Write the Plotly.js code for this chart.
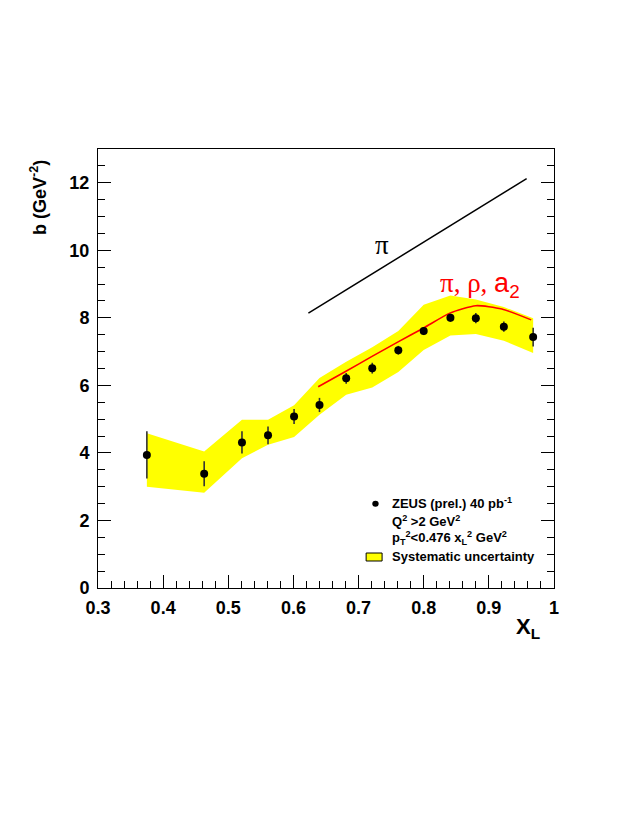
<!DOCTYPE html>
<html>
<head>
<meta charset="utf-8">
<script src="https://cdn.plot.ly/plotly-3.0.1.min.js"></script>
<style>html,body{margin:0;padding:0;background:#fff;}#plot{width:632px;height:817px;}</style>
</head>
<body>
<div id="plot"></div>
<script>
// ZEUS (prel.) slope b vs x_L
const xL = [0.375, 0.463, 0.521, 0.561, 0.601, 0.640, 0.681, 0.721, 0.761, 0.800, 0.841, 0.880, 0.923, 0.968];
const bVal = [3.94, 3.38, 4.31, 4.52, 5.08, 5.42, 6.21, 6.51, 7.04, 7.61, 8.00, 7.99, 7.74, 7.43];
const bErr = [0.70, 0.37, 0.33, 0.26, 0.22, 0.21, 0.16, 0.16, 0.13, 0.12, 0.12, 0.15, 0.15, 0.28];
const sysUpper = [4.58, 4.04, 4.98, 4.98, 5.41, 6.22, 6.70, 7.13, 7.61, 8.39, 8.66, 8.54, 8.32, 7.99];
const sysLower = [3.00, 2.82, 3.84, 4.24, 4.47, 5.13, 5.72, 5.94, 6.40, 7.05, 7.48, 7.52, 7.32, 6.96];

// model curves
const piX = [0.623, 0.958];
const piY = [8.14, 12.12];
const pra2X = [0.638, 0.68, 0.72, 0.76, 0.80, 0.84, 0.88, 0.92, 0.965];
const pra2Y = [5.96, 6.41, 6.85, 7.28, 7.70, 8.14, 8.36, 8.26, 7.94];

const bandX = xL.concat(xL.slice().reverse());
const bandY = sysUpper.concat(sysLower.slice().reverse());

const traces = [
  {x: bandX, y: bandY, type: 'scatter', mode: 'lines', fill: 'toself',
   fillcolor: '#ffff00', line: {width: 0, color: '#ffff00'}, hoverinfo: 'skip', showlegend: false},
  {x: piX, y: piY, type: 'scatter', mode: 'lines', line: {color: '#000', width: 1.5}, showlegend: false},
  {x: pra2X, y: pra2Y, type: 'scatter', mode: 'lines', line: {color: '#ff0000', width: 1.6, shape: 'spline', smoothing: 0.6}, showlegend: false},
  {x: xL, y: bVal, type: 'scatter', mode: 'markers',
   marker: {color: '#000', size: 8},
   error_y: {type: 'data', array: bErr, visible: true, color: '#333', thickness: 1.6, width: 0},
   showlegend: false}
];

const tickFont = {family: 'Liberation Sans, Arial, sans-serif', size: 18, color: '#000', weight: 'bold'};
const legFont = {family: 'Liberation Sans, Arial, sans-serif', size: 13, color: '#000', weight: 'bold'};

const layout = {
  width: 632, height: 817,
  margin: {l: 98, r: 78, t: 149, b: 229, pad: 0},
  paper_bgcolor: '#fff', plot_bgcolor: '#fff',
  showlegend: false,
  xaxis: {
    range: [0.3, 1], tick0: 0.3, dtick: 0.1, ticks: 'inside', ticklen: 13, tickwidth: 1, tickcolor: '#000',
    showline: true, linecolor: '#000', linewidth: 1, mirror: true,
    showgrid: false, zeroline: false, tickfont: tickFont, ticklabelstandoff: 3,
    minor: {dtick: 0.02, ticks: 'inside', ticklen: 7, tickcolor: '#000', tickwidth: 1, showgrid: false}
  },
  xaxis2: {
    overlaying: 'x', matches: 'x', side: 'top', range: [0.3, 1], tick0: 0.3, dtick: 0.1,
    ticks: 'inside', ticklen: 12, tickcolor: '#000', tickwidth: 1, showticklabels: false,
    showgrid: false, zeroline: false, showline: false
  },
  yaxis: {
    range: [0, 13], tick0: 0, dtick: 2, ticks: 'inside', ticklen: 13, tickwidth: 1, tickcolor: '#000',
    showline: true, linecolor: '#000', linewidth: 1, mirror: 'ticks',
    showgrid: false, zeroline: false, tickfont: tickFont, ticklabelstandoff: 4,
    minor: {dtick: 0.5, ticks: 'inside', ticklen: 7, tickcolor: '#000', tickwidth: 1, showgrid: false}
  },
  shapes: [
    {type: 'circle', xref: 'paper', yref: 'paper', x0: 0.6015, x1: 0.6155, y0: 0.1852, y1: 0.1988,
     fillcolor: '#000', line: {color: '#000', width: 0}},
    {type: 'rect', xref: 'paper', yref: 'paper', x0: 0.588, x1: 0.623, y0: 0.0615, y1: 0.0797,
     fillcolor: '#ffff00', line: {color: '#000', width: 1}}
  ],
  annotations: [
    {xref: 'paper', yref: 'paper', x: 0.942, y: -0.091, xanchor: 'center', yanchor: 'middle', showarrow: false,
     text: 'X<sub>L</sub>', font: {family: 'Liberation Sans, Arial, sans-serif', size: 22, color: '#000', weight: 'bold'}},
    {xref: 'paper', yref: 'paper', x: -0.13, y: 0.89, xanchor: 'center', yanchor: 'middle', textangle: -90, showarrow: false,
     text: 'b (GeV<sup>-2</sup>)', font: {family: 'Liberation Sans, Arial, sans-serif', size: 18, color: '#000', weight: 'bold'}},
    {x: 0.736, y: 10.16, xref: 'x', yref: 'y', showarrow: false, xanchor: 'center', yanchor: 'middle',
     text: 'π', font: {family: 'Liberation Serif, DejaVu Serif, serif', size: 27, color: '#000'}},
    {x: 0.886, y: 8.98, xref: 'x', yref: 'y', showarrow: false, xanchor: 'center', yanchor: 'middle',
     text: "π, ρ, <span style='font-family:Liberation Sans'>a<sub>2</sub></span>",
     font: {family: 'Liberation Serif, DejaVu Serif, serif', size: 27, color: '#ff0000'}},
    {xref: 'paper', yref: 'paper', x: 0.640, y: 0.194, xanchor: 'left', yanchor: 'middle', showarrow: false,
     text: 'ZEUS (prel.) 40 pb<sup>-1</sup>', font: legFont},
    {xref: 'paper', yref: 'paper', x: 0.640, y: 0.153, xanchor: 'left', yanchor: 'middle', showarrow: false,
     text: 'Q<sup>2</sup> &gt;2 GeV<sup>2</sup>', font: legFont},
    {xref: 'paper', yref: 'paper', x: 0.640, y: 0.113, xanchor: 'left', yanchor: 'middle', showarrow: false,
     text: 'p<sub>T</sub><sup>2</sup>&lt;0.476 x<sub>L</sub><sup>2</sup> GeV<sup>2</sup>', font: legFont},
    {xref: 'paper', yref: 'paper', x: 0.640, y: 0.071, xanchor: 'left', yanchor: 'middle', showarrow: false,
     text: 'Systematic uncertainty', font: legFont}
  ]
};

Plotly.newPlot('plot', traces, layout, {staticPlot: true, displayModeBar: false});
</script>
</body>
</html>
